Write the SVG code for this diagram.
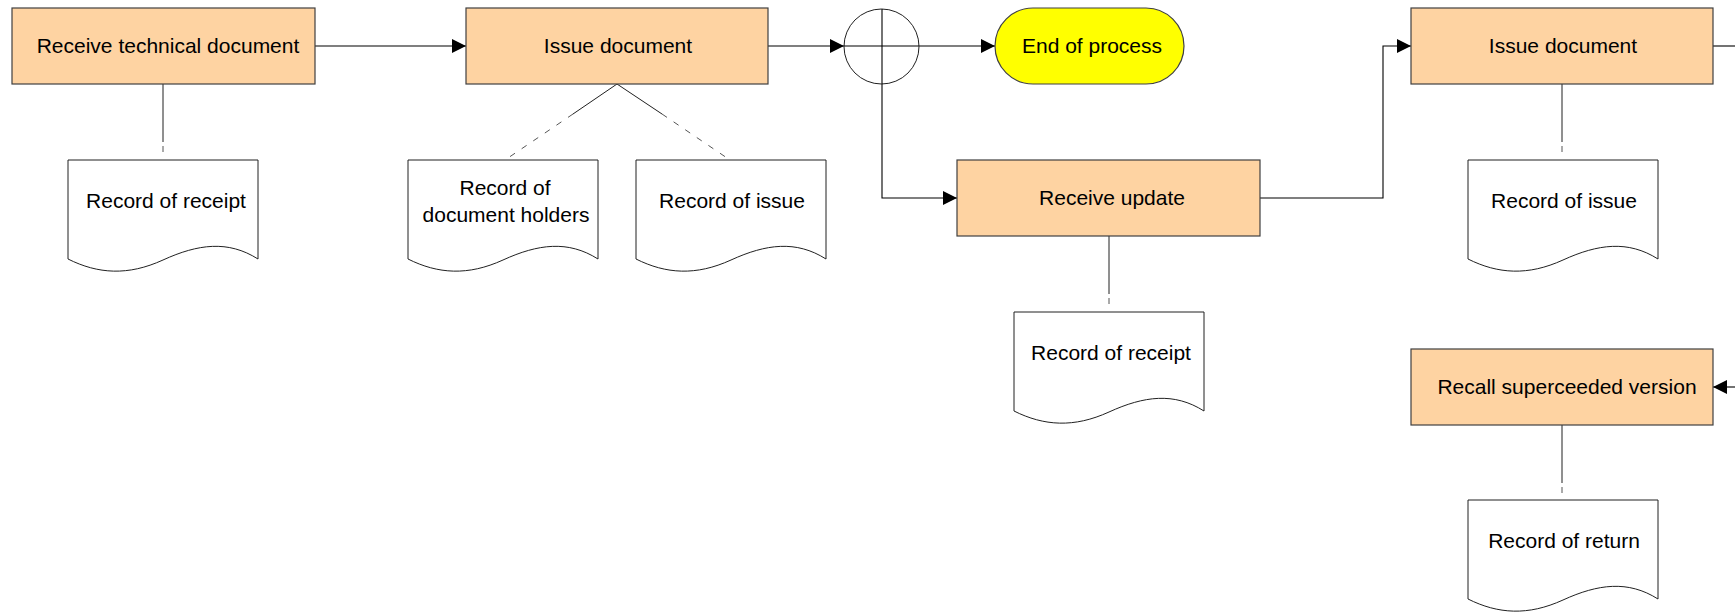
<svg xmlns="http://www.w3.org/2000/svg" width="1735" height="614" viewBox="0 0 1735 614">
<style>
.box{fill:#fed3a2;stroke:#404040;stroke-width:1.2}
.doc{fill:#ffffff;stroke:#202020;stroke-width:1}
.t{font-family:"Liberation Sans",Arial,sans-serif;font-size:21px;fill:#000;text-anchor:middle}
.c{fill:none;stroke:#000;stroke-width:1.1}
.g{fill:none;stroke:#202020;stroke-width:1}
.fd{fill:none;stroke:#555;stroke-width:1;stroke-dasharray:6 8}
</style>
<defs>
<marker id="ah" markerWidth="14" markerHeight="14" refX="14" refY="7" orient="auto" markerUnits="userSpaceOnUse">
<path d="M0,0 L14,7 L0,14 z" fill="#000"/>
</marker>
<path id="docshape" d="M0,0 H190 V99 C160,80 130,84 95,100 C60,116 30,114 0,99 Z"/>
</defs>
<rect width="1735" height="614" fill="#fff"/>

<g id="connectors">
<line class="c" x1="315" y1="46" x2="466" y2="46" marker-end="url(#ah)"/>
<line class="c" x1="768" y1="46" x2="844" y2="46" marker-end="url(#ah)"/>
<line class="c" x1="919" y1="46" x2="995" y2="46" marker-end="url(#ah)"/>
<polyline class="c" points="882,84 882,198 957,198" marker-end="url(#ah)"/>
<polyline class="c" points="1260,198 1383,198 1383,46 1411,46" marker-end="url(#ah)"/>
<line class="c" x1="1713" y1="46" x2="1735" y2="46"/>
<line class="c" x1="1735" y1="387" x2="1713" y2="387" marker-end="url(#ah)"/>
<!-- associations -->
<line class="g" x1="163" y1="84" x2="163" y2="142"/>
<line class="fd" x1="163" y1="146" x2="163" y2="160"/>
<line class="g" x1="617" y1="84" x2="573" y2="114"/>
<line class="fd" x1="573" y1="114" x2="505" y2="160"/>
<line class="g" x1="617" y1="84" x2="662" y2="114"/>
<line class="fd" x1="662" y1="114" x2="730" y2="160"/>
<line class="g" x1="1109" y1="236" x2="1109" y2="294"/>
<line class="fd" x1="1109" y1="298" x2="1109" y2="312"/>
<line class="g" x1="1562" y1="84" x2="1562" y2="142"/>
<line class="fd" x1="1562" y1="146" x2="1562" y2="160"/>
<line class="g" x1="1562" y1="425" x2="1562" y2="483"/>
<line class="fd" x1="1562" y1="487" x2="1562" y2="500"/>
</g>

<g id="receive-technical-document">
<rect class="box" x="12" y="8" width="303" height="76"/>
<text class="t" x="168" y="53">Receive technical document</text>
</g>
<g id="record-of-receipt-1">
<use href="#docshape" class="doc" x="68" y="160"/>
<text class="t" x="166" y="208">Record of receipt</text>
</g>
<g id="issue-document-1">
<rect class="box" x="466" y="8" width="302" height="76"/>
<text class="t" x="618" y="53">Issue document</text>
</g>
<g id="record-of-document-holders">
<use href="#docshape" class="doc" x="408" y="160"/>
<text class="t" x="505" y="195">Record of</text>
<text class="t" x="506" y="222">document holders</text>
</g>
<g id="record-of-issue-1">
<use href="#docshape" class="doc" x="636" y="160"/>
<text class="t" x="732" y="208">Record of issue</text>
</g>
<g id="junction">
<circle cx="881.5" cy="46.5" r="37.5" fill="#fff" stroke="#202020" stroke-width="1"/>
<line class="c" x1="844" y1="46" x2="919" y2="46"/>
<line class="c" x1="882" y1="9" x2="882" y2="84"/>
</g>
<g id="end-of-process">
<rect x="995" y="8" width="189" height="76" rx="38" ry="38" fill="#ffff00" stroke="#404040" stroke-width="1.2"/>
<text class="t" x="1092" y="53">End of process</text>
</g>
<g id="receive-update">
<rect class="box" x="957" y="160" width="303" height="76"/>
<text class="t" x="1112" y="205">Receive update</text>
</g>
<g id="record-of-receipt-2">
<use href="#docshape" class="doc" x="1014" y="312"/>
<text class="t" x="1111" y="360">Record of receipt</text>
</g>
<g id="issue-document-2">
<rect class="box" x="1411" y="8" width="302" height="76"/>
<text class="t" x="1563" y="53">Issue document</text>
</g>
<g id="record-of-issue-2">
<use href="#docshape" class="doc" x="1468" y="160"/>
<text class="t" x="1564" y="208">Record of issue</text>
</g>
<g id="recall-superceeded-version">
<rect class="box" x="1411" y="349" width="302" height="76"/>
<text class="t" x="1567" y="394">Recall superceeded version</text>
</g>
<g id="record-of-return">
<use href="#docshape" class="doc" x="1468" y="500"/>
<text class="t" x="1564" y="548">Record of return</text>
</g>
</svg>
